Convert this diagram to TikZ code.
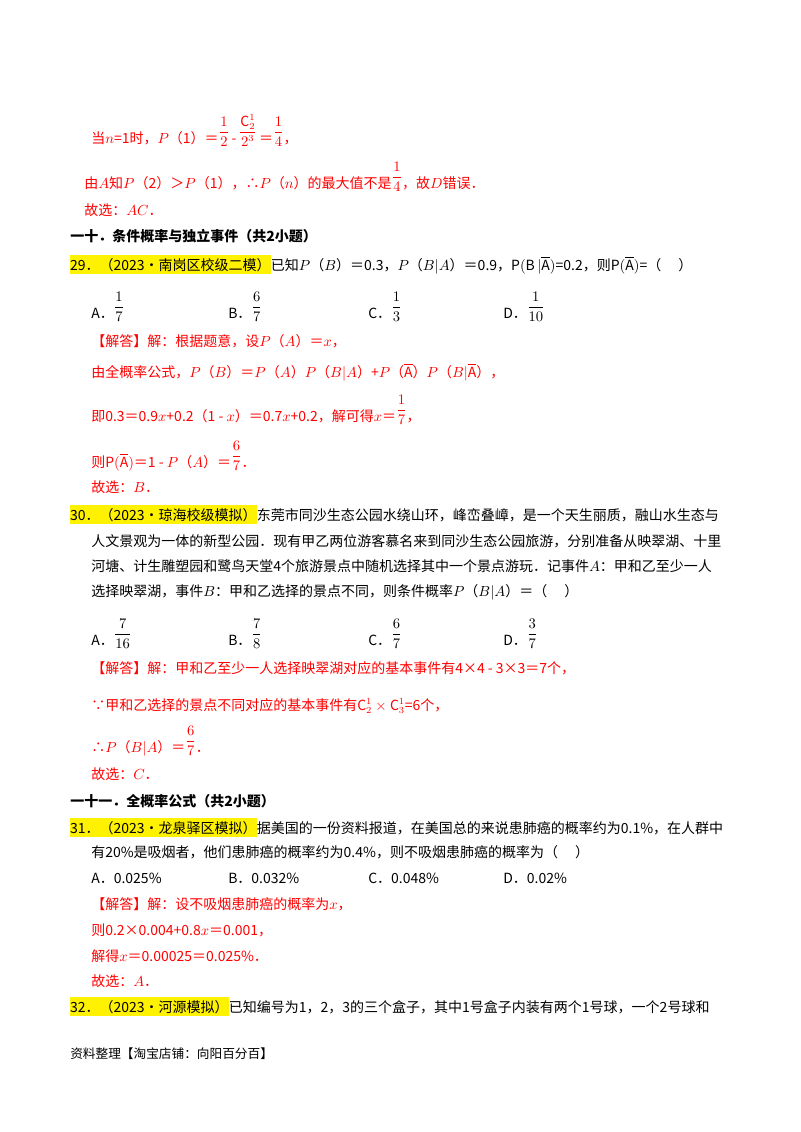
\documentclass[tikz,border=0pt]{standalone}
\usepackage{fontspec}
\usepackage{amsmath}
\setmainfont{Noto Sans CJK SC}
\newcommand{\fr}[2]{\raisebox{0.5em}{$\dfrac{#1}{#2}$}}
\newcommand{\Abar}{\overline{\mathrm{A}}}
\tikzset{
  ln/.style={anchor=base west, inner sep=0pt, font=\fontsize{10.5pt}{12pt}\selectfont},
  ans/.style={ln, text=red},
  hd/.style={ln, font=\fontsize{10.5pt}{12pt}\selectfont\bfseries},
  tag/.style={ln, fill=yellow, inner ysep=2pt, outer sep=0pt},
  foot/.style={ln, font=\fontsize{9.5pt}{11pt}\selectfont}
}
\begin{document}
\begin{tikzpicture}[x=0.75pt,y=-0.75pt]
\useasboundingbox (0,0) rectangle (800,1132);

% tail of previous answer
\node[ans] (l1) at (91,143) {当$n$=1时，$P$（1）＝\fr{1}{2}\,-\,\fr{\mathrm{C}^{1}_{2}}{2^{3}}\,＝\fr{1}{4}，};
\node[ans] (l2) at (84,188) {由$A$知$P$（2）＞$P$（1），∴$P$（$n$）的最大值不是\fr{1}{4}，故$D$错误．};
\node[ans] (l3) at (84,215) {故选：$AC$．};

% section ten
\node[hd] (s10) at (70,241) {一十．条件概率与独立事件（共2小题）};
\node[tag] (t29) at (70,270) {29．（2023•南岗区校级二模）};
\node[ln] (q29) at (t29.base east) {已知$P$（$B$）＝0.3，$P$（$B|A$）＝0.9，$\mathrm{P}(\mathrm{B}\,|\Abar)$=0.2，则$\mathrm{P}(\Abar)$=（\quad\ ）};
\node[ln] (a29) at (91,318) {A．\fr{1}{7}};
\node[ln] (b29) at (228,318) {B．\fr{6}{7}};
\node[ln] (c29) at (368,318) {C．\fr{1}{3}};
\node[ln] (d29) at (503,318) {D．\fr{1}{10}};
\node[ans] (r1) at (91,346) {【解答】解：根据题意，设$P$（$A$）＝$x$，};
\node[ans] (r2) at (91,377) {由全概率公式，$P$（$B$）＝$P$（$A$）$P$（$B|A$）+$P$（$\Abar$）$P$（$B|\Abar$），};
\node[ans] (r3) at (91,421) {即0.3＝0.9$x$+0.2（1 - $x$）＝0.7$x$+0.2，解可得$x$＝\fr{1}{7}，};
\node[ans] (r4) at (91,467) {则$\mathrm{P}(\Abar)$＝1 - $P$（$A$）＝\fr{6}{7}．};
\node[ans] (r5) at (91,492) {故选：$B$．};

% question 30
\node[tag] (t30) at (70,520) {30．（2023•琼海校级模拟）};
\node[ln] (q30a) at (t30.base east) {东莞市同沙生态公园水绕山环，峰峦叠嶂，是一个天生丽质，融山水生态与};
\node[ln] (q30b) at (91,546) {人文景观为一体的新型公园．现有甲乙两位游客慕名来到同沙生态公园旅游，分别准备从映翠湖、十里};
\node[ln] (q30c) at (91,571) {河塘、计生雕塑园和鹭鸟天堂4个旅游景点中随机选择其中一个景点游玩．记事件$A$：甲和乙至少一人};
\node[ln] (q30d) at (91,596) {选择映翠湖，事件$B$：甲和乙选择的景点不同，则条件概率$P$（$B|A$）＝（\quad\ ）};
\node[ln] (a30) at (91,645) {A．\fr{7}{16}};
\node[ln] (b30) at (228,645) {B．\fr{7}{8}};
\node[ln] (c30) at (368,645) {C．\fr{6}{7}};
\node[ln] (d30) at (503,645) {D．\fr{3}{7}};
\node[ans] (p1) at (91,673) {【解答】解：甲和乙至少一人选择映翠湖对应的基本事件有4×4 - 3×3＝7个，};
\node[ans] (p2) at (91,710) {∵甲和乙选择的景点不同对应的基本事件有$\mathrm{C}^{1}_{2}\times\mathrm{C}^{1}_{3}$=6个，};
\node[ans] (p3) at (91,752) {∴$P$（$B|A$）＝\fr{6}{7}．};
\node[ans] (p4) at (91,779) {故选：$C$．};

% section eleven
\node[hd] (s11) at (70,806) {一十一．全概率公式（共2小题）};
\node[tag] (t31) at (70,833) {31．（2023•龙泉驿区模拟）};
\node[ln] (q31a) at (t31.base east) {据美国的一份资料报道，在美国总的来说患肺癌的概率约为0.1\%，在人群中};
\node[ln] (q31b) at (91,857) {有20\%是吸烟者，他们患肺癌的概率约为0.4\%，则不吸烟患肺癌的概率为（\quad\ ）};
\node[ln] (a31) at (91,883) {A．0.025\%};
\node[ln] (b31) at (228,883) {B．0.032\%};
\node[ln] (c31) at (368,883) {C．0.048\%};
\node[ln] (d31) at (503,883) {D．0.02\%};
\node[ans] (u1) at (91,909) {【解答】解：设不吸烟患肺癌的概率为$x$，};
\node[ans] (u2) at (91,935) {则0.2×0.004+0.8$x$＝0.001，};
\node[ans] (u3) at (91,961) {解得$x$＝0.00025＝0.025\%．};
\node[ans] (u4) at (91,986) {故选：$A$．};

% question 32
\node[tag] (t32) at (70,1012) {32．（2023•河源模拟）};
\node[ln] (q32) at (t32.base east) {已知编号为1，2，3的三个盒子，其中1号盒子内装有两个1号球，一个2号球和};

\node[foot] (ft) at (70,1058) {资料整理【淘宝店铺：向阳百分百】};
\end{tikzpicture}
\end{document}
